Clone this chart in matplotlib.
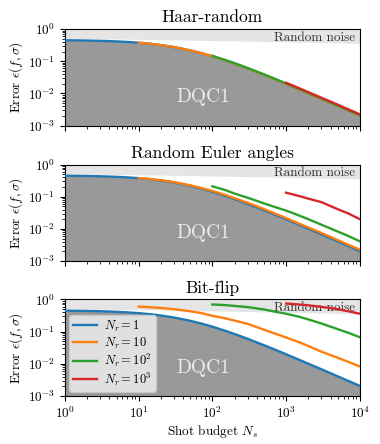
import numpy as np
import matplotlib
matplotlib.use("Agg")
import matplotlib.pyplot as plt

plt.rcParams['font.family'] = ['cmr10', 'DejaVu Serif']
plt.rcParams['mathtext.fontset'] = 'cm'
plt.rcParams['axes.formatter.use_mathtext'] = True
plt.rcParams['axes.unicode_minus'] = False

# Shot budget grid
Ns = [1, 1.5, 2, 3, 5, 7, 10, 15, 20, 30, 50, 70, 100, 150, 200, 300,
      500, 700, 1000, 1500, 2000, 3000, 5000, 7000, 10000]

# DQC1 reference error curve
dqc1 = [0.45, 0.445, 0.44, 0.431, 0.414, 0.398, 0.377, 0.345, 0.318, 0.276,
        0.218, 0.180, 0.143, 0.106, 0.0845, 0.060, 0.038, 0.0278, 0.0198,
        0.0134, 0.0101, 0.0068, 0.0041, 0.00294, 0.00206]

# Random-noise band (lower edge), at decades
band_Ns = [1, 10, 100, 1000, 10000]
band_low = [0.52, 0.48, 0.44, 0.40, 0.36]
band_high = [1.0, 1.0, 1.0, 1.0, 1.0]

Nr_labels = [r'$N_r = 1$', r'$N_r = 10$', r'$N_r = 10^2$', r'$N_r = 10^3$']
Nr_values = [1, 10, 100, 1000]

# Haar-random
haar_1 = dqc1
haar_10 = [0.377, 0.345, 0.318, 0.276, 0.218, 0.180, 0.143, 0.106, 0.0845,
           0.060, 0.038, 0.0278, 0.0198, 0.0134, 0.0101, 0.0068, 0.0041,
           0.00294, 0.00206]
haar_100 = [0.147, 0.109, 0.087, 0.062, 0.0392, 0.0287, 0.0204, 0.0138,
            0.0104, 0.0070, 0.00422, 0.00303, 0.00212]
haar_1000 = [0.0215, 0.0146, 0.011, 0.0074, 0.0045, 0.0032, 0.00225]

# Random Euler angles
euler_1 = dqc1
euler_10 = [0.38, 0.35, 0.325, 0.284, 0.226, 0.188, 0.151, 0.113, 0.09,
            0.065, 0.0415, 0.0302, 0.0216, 0.0146, 0.0111, 0.0075, 0.0045,
            0.0032, 0.00228]
euler_100 = [0.21, 0.16, 0.125, 0.093, 0.062, 0.048, 0.037, 0.026, 0.020,
             0.0135, 0.0083, 0.006, 0.0041]
euler_1000 = [0.133, 0.105, 0.087, 0.068, 0.041, 0.030, 0.020]

# Bit-flip
bit_1 = dqc1
bit_10 = [0.60, 0.57, 0.545, 0.50, 0.43, 0.38, 0.31, 0.26, 0.22, 0.175,
          0.115, 0.088, 0.066, 0.047, 0.036, 0.024, 0.0155, 0.0115, 0.0083]
bit_100 = [0.70, 0.67, 0.63, 0.58, 0.49, 0.42, 0.36, 0.29, 0.24, 0.18,
           0.12, 0.092, 0.067]
bit_1000 = [0.75, 0.70, 0.66, 0.59, 0.50, 0.43, 0.36]

titles = ['Haar-random', 'Random Euler angles', 'Bit-flip']
panels = [[haar_1, haar_10, haar_100, haar_1000],
          [euler_1, euler_10, euler_100, euler_1000],
          [bit_1, bit_10, bit_100, bit_1000]]
colors = ['#1f77b4', '#ff7f0e', '#2ca02c', '#d62728']

fig = plt.figure(figsize=(3.8, 4.44), dpi=100)
left, width = 0.171, 0.776
bottoms = [0.717, 0.412, 0.108]
height = 0.2175

Ns_arr = np.array(Ns)
for i, (title, series) in enumerate(zip(titles, panels)):
    ax = fig.add_axes([left, bottoms[i], width, height])
    ax.set_xscale('log')
    ax.set_yscale('log')
    ax.set_xlim(1, 1e4)
    ax.set_ylim(1e-3, 1)
    ax.fill_between(band_Ns, band_low, band_high, color='#e5e5e5', lw=0, zorder=1)
    ax.fill_between(Ns, 1e-3, dqc1, color='#999999', lw=0, zorder=1.5)
    ax.text(0.985, 0.91, 'Random noise', ha='right', va='center',
            transform=ax.transAxes, fontsize=9.5, color='#333333', zorder=2)
    ax.text(75, 0.0075, 'DQC1', ha='center', va='center', fontsize=14,
            color='#eeeeee', zorder=2)
    for k, (vals, col, lab, nr) in enumerate(zip(series, colors, Nr_labels, Nr_values)):
        xs = Ns_arr[Ns_arr >= nr]
        ax.plot(xs, vals, color=col, lw=1.7, label=lab, zorder=3 + k)
    ax.set_title(title, fontsize=12.5, pad=5)
    ax.set_ylabel(r'Error $\epsilon(f, \sigma)$', fontsize=9.5, labelpad=2)
    ax.tick_params(axis='both', which='major', labelsize=9.5, length=3.5)
    ax.tick_params(axis='both', which='minor', length=2)
    ax.set_xticks([1, 10, 100, 1000, 10000])
    ax.set_yticks([1e-3, 1e-2, 1e-1, 1])
    if i < 2:
        ax.set_xticklabels([])
    else:
        ax.set_xlabel(r'Shot budget $N_s$', fontsize=9.5, labelpad=1)
        leg = ax.legend(loc='lower left', fontsize=9, frameon=True,
                        handlelength=1.9, handletextpad=0.6,
                        borderaxespad=0.35, borderpad=0.3,
                        labelspacing=0.12, fancybox=True)
        leg.get_frame().set_facecolor('#e8e8e8')
        leg.get_frame().set_edgecolor('#cccccc')
        leg.get_frame().set_alpha(0.9)

fig.savefig('out.png', dpi=100)
